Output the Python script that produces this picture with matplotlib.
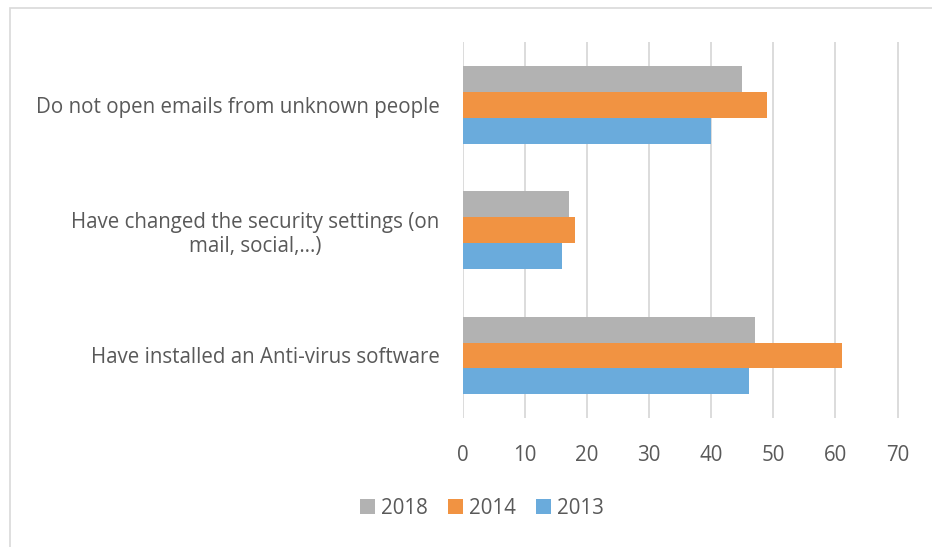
import numpy as np
import matplotlib
matplotlib.use('Agg')
import matplotlib.pyplot as plt
from matplotlib.patches import Rectangle

# categories from bottom to top (Excel bar chart order)
categories = ['Have installed an Anti-virus software',
              'Have changed the security settings (on\nmail, social,…)',
              'Do not open emails from unknown people']
years = ['2018', '2014', '2013']
values_2018 = [47, 17, 45]
values_2014 = [61, 18, 49]
values_2013 = [46, 16, 40]
colors = ['#b2b2b2', '#f19342', '#6aabdc']
x_ticks = [0, 10, 20, 30, 40, 50, 60, 70]

plt.rcParams['font.family'] = ['Open Sans', 'DejaVu Sans']
text_color = '#595959'

fig = plt.figure(figsize=(9.32, 5.47), dpi=100)
ax = fig.add_axes([0.4968, 0.2355, 0.4682, 0.6877])

# outer chart border
fig.patches.append(Rectangle((10 / 932, -0.1), 1.2, 1 - 7.5 / 547 + 0.1,
                             transform=fig.transFigure, fill=False,
                             edgecolor='#d9d9d9', linewidth=1.2))

y = np.arange(len(categories))
h = 0.207
series = [values_2018, values_2014, values_2013]
offsets = [h, 0, -h]
for vals, off, col, lab in zip(series, offsets, colors, years):
    ax.barh(y + off, vals, height=h, color=col, label=lab, zorder=3)

ax.set_xlim(0, 70.3)
ax.set_ylim(-0.5, 2.5)
ax.set_xticks(x_ticks)
ax.set_yticks(y)
ax.set_yticklabels(categories, ha='right', multialignment='center')
ax.grid(axis='x', color='#d9d9d9', linewidth=1.3, zorder=0)
for s in ax.spines.values():
    s.set_visible(False)
ax.tick_params(axis='both', length=0, labelsize=14.8, colors=text_color)
ax.tick_params(axis='x', pad=19)
ax.tick_params(axis='y', pad=17)

handles, labels = ax.get_legend_handles_labels()
leg = fig.legend(handles, labels, loc='center', bbox_to_anchor=(482 / 932, 1 - 508 / 547),
                 ncol=3, frameon=False, fontsize=14.8, handlelength=0.75, handleheight=0.75,
                 handletextpad=0.3, columnspacing=0.95, labelcolor=text_color)

fig.savefig('out.png', dpi=100)
